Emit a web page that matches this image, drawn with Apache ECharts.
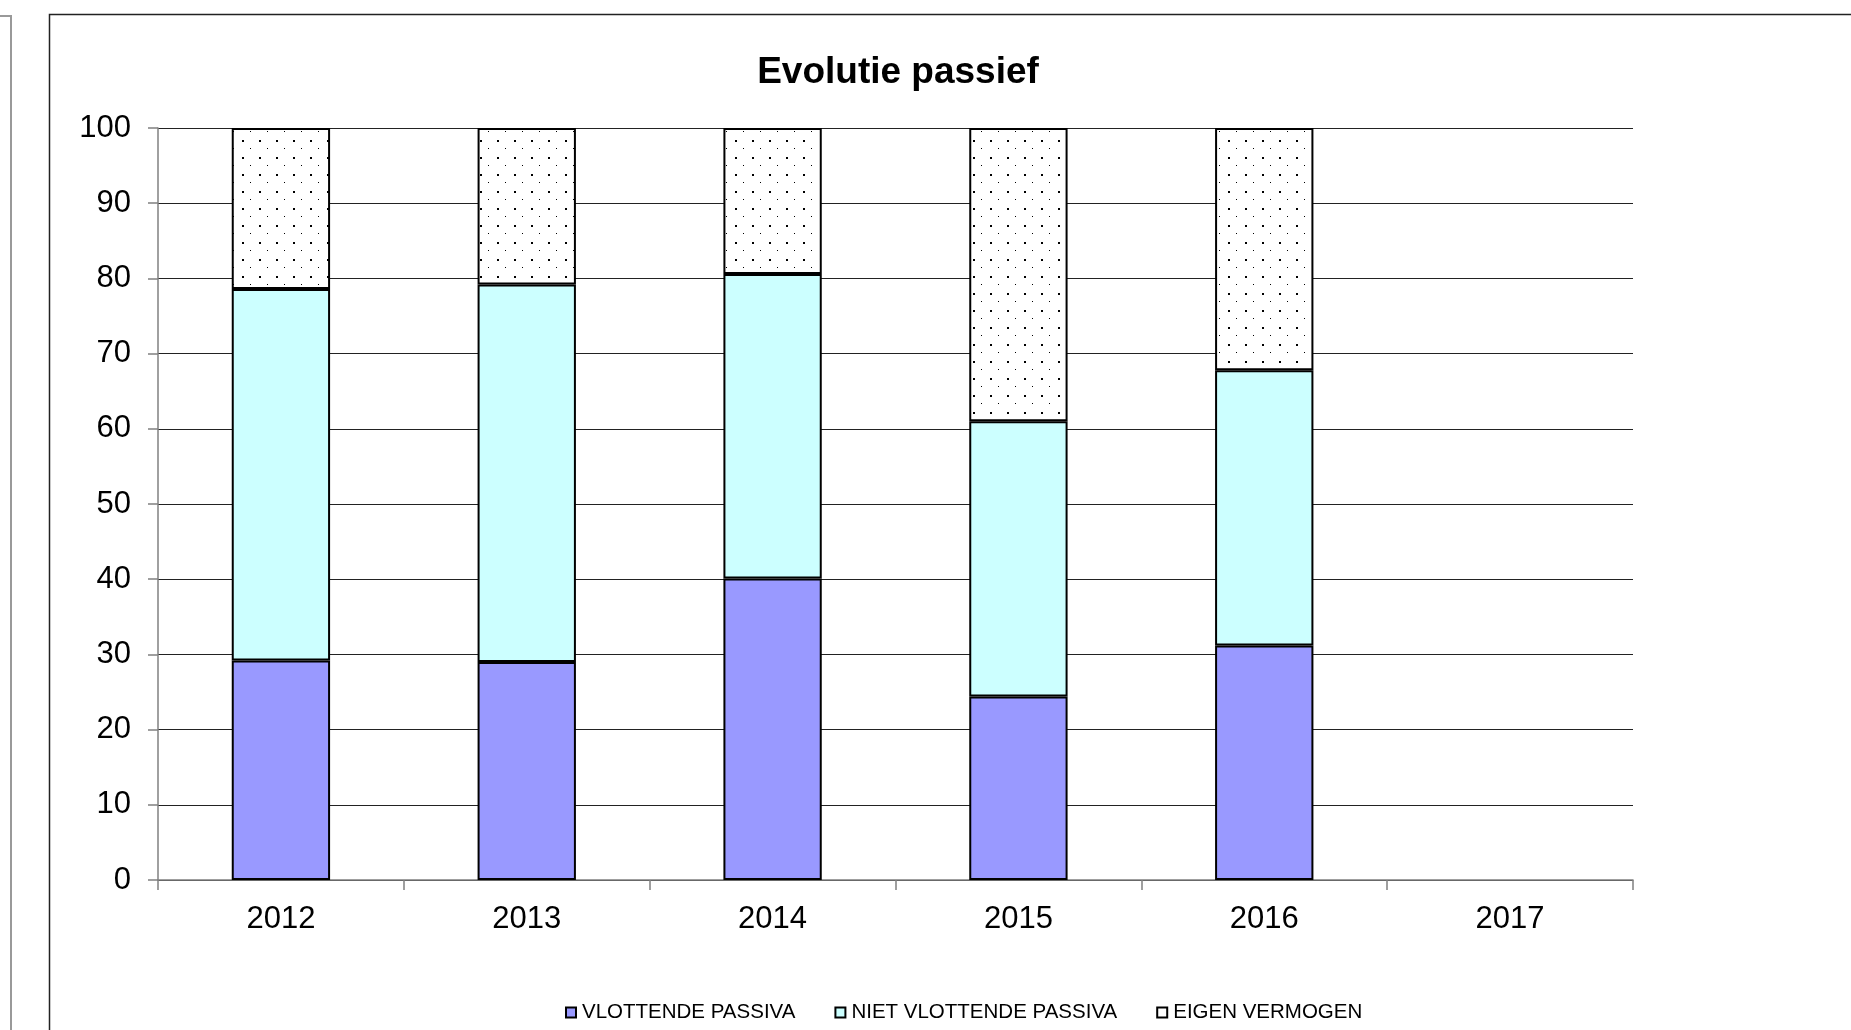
<!DOCTYPE html>
<html>
<head>
<meta charset="utf-8">
<script src="https://cdn.jsdelivr.net/npm/echarts@6/dist/echarts.min.js"></script>
<style>
html,body{margin:0;padding:0;background:#fff;}
#c{width:1851px;height:1030px;}
</style>
</head>
<body>
<div id="c"></div>
<script>
const categories = ['2012', '2013', '2014', '2015', '2016', '2017'];
const vlottendePassiva = [29.2, 29.0, 40.1, 24.4, 31.2, null];
const nietVlottendePassiva = [49.4, 50.2, 40.5, 36.6, 36.6, null];
const eigenVermogen = [21.4, 20.8, 19.4, 39.0, 32.2, null];
const yTicks = [0, 10, 20, 30, 40, 50, 60, 70, 80, 90, 100];

function dotPattern() {
  const c = document.createElement('canvas');
  c.width = 17; c.height = 17;
  const g = c.getContext('2d');
  g.fillStyle = '#fff';
  g.fillRect(0, 0, 17, 17);
  g.fillStyle = '#000';
  g.fillRect(4, 4, 2, 2);
  g.fillRect(12, 12, 1, 1);
  return c;
}

const chart = echarts.init(document.getElementById('c'));
const font = 'Liberation Sans, Arial, sans-serif';
const barBorder = { borderColor: '#000', borderWidth: 2 };

chart.setOption({
  animation: false,
  backgroundColor: '#fff',
  title: {
    text: 'Evolutie passief',
    left: 893, top: 49, textAlign: 'center',
    textStyle: { fontFamily: font, fontSize: 37, fontWeight: 'bold', color: '#000' }
  },
  graphic: [
    { type: 'rect', shape: { x: 49.5, y: 14.5, width: 2000, height: 2000 }, style: { fill: 'none', stroke: '#222', lineWidth: 1.5 }, silent: true },
    { type: 'polyline', shape: { points: [[0, 16], [11, 16], [11, 1030]] }, style: { fill: 'none', stroke: '#999', lineWidth: 2 }, silent: true }
  ],
  legend: {
    left: 560, top: 997,
    itemWidth: 10, itemHeight: 10, itemGap: 39,
    icon: 'rect',
    textStyle: { fontFamily: font, fontSize: 20.5, color: '#000', padding: [0, 0, 0, 1] },
    itemStyle: { borderColor: '#000', borderWidth: 2 },
    data: [
      { name: 'VLOTTENDE PASSIVA' },
      { name: 'NIET VLOTTENDE PASSIVA' },
      { name: 'EIGEN VERMOGEN', itemStyle: { color: '#fff' } }
    ]
  },
  grid: { left: 158, right: 218, top: 128, bottom: 150, containLabel: false },
  xAxis: {
    type: 'category',
    data: categories,
    axisLine: { lineStyle: { color: '#808080', width: 1.5 } },
    axisTick: { show: true, length: 10, lineStyle: { color: '#808080', width: 1.5 } },
    axisLabel: { fontFamily: font, fontSize: 31, color: '#000', margin: 24 }
  },
  yAxis: {
    type: 'value',
    min: 0, max: 100, interval: 10,
    axisLine: { show: true, lineStyle: { color: '#808080', width: 1.5 } },
    axisTick: { show: true, length: 10, lineStyle: { color: '#808080', width: 1.5 } },
    axisLabel: {
      fontFamily: font, fontSize: 31, color: '#000', margin: 27,
      formatter: v => yTicks.includes(v) ? String(v) : ''
    },
    splitLine: { show: true, lineStyle: { color: '#222', width: 1.2 } }
  },
  series: [
    { name: 'VLOTTENDE PASSIVA', type: 'bar', stack: 'p', barWidth: '40%', data: vlottendePassiva,
      itemStyle: Object.assign({ color: '#9999FF' }, barBorder) },
    { name: 'NIET VLOTTENDE PASSIVA', type: 'bar', stack: 'p', barWidth: '40%', data: nietVlottendePassiva,
      itemStyle: Object.assign({ color: '#CCFFFF' }, barBorder) },
    { name: 'EIGEN VERMOGEN', type: 'bar', stack: 'p', barWidth: '40%', data: eigenVermogen,
      itemStyle: Object.assign({ color: { image: dotPattern(), repeat: 'repeat' } }, barBorder) }
  ]
});
</script>
</body>
</html>
